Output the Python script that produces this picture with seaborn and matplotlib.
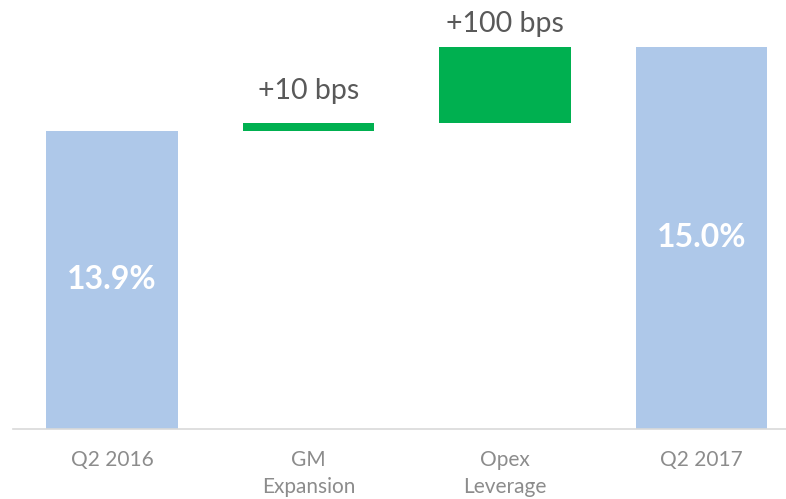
import matplotlib
matplotlib.use("Agg")
import matplotlib.pyplot as plt
import seaborn as sns
import pandas as pd

categories = ["Q2 2016", "GM\nExpansion", "Opex\nLeverage", "Q2 2017"]
changes = [13.9, 0.1, 1.0, 15.0]          # totals / deltas (percentage points)
kinds = ["total", "delta", "delta", "total"]
bar_labels = ["13.9%", "+10 bps", "+100 bps", "15.0%"]

# build waterfall bottoms / heights from the values
bottoms, heights = [], []
running = 0.0
for v, k in zip(changes, kinds):
    if k == "total":
        bottoms.append(0.0)
        heights.append(v)
        running = v
    else:
        bottoms.append(running)
        heights.append(v)
        running += v

df = pd.DataFrame({"cat": categories, "height": heights, "bottom": bottoms})

sns.set_theme(style="white")
plt.rcParams["font.family"] = ["Lato", "DejaVu Sans"]

fig = plt.figure(figsize=(7.86, 4.99), dpi=100)
ax = fig.add_axes([13 / 786, 70 / 499, 773 / 786, 429 / 499])

sns.barplot(data=df, x="cat", y="height", bottom=df["bottom"].values,
            color="#aec8e9", width=0.67, ax=ax, saturation=1)

blue, green = "#aec8e9", "#00b050"
for p, k in zip(ax.patches, kinds):
    p.set_facecolor(blue if k == "total" else green)
    p.set_edgecolor("none")

ymin = 10.0
ax.set_ylim(ymin, 15.61)
ax.set_xlim(-0.505, 3.43)

for i, (k, lab) in enumerate(zip(kinds, bar_labels)):
    top = bottoms[i] + heights[i]
    if k == "total":
        ax.text(i, (ymin + top) / 2, lab, ha="center", va="center",
                color="white", fontsize=23, fontweight="bold")
    else:
        ax.annotate(lab, (i, top), xytext=(0, 7 if heights[i] > 0.5 else 14),
                    textcoords="offset points", ha="center", va="bottom",
                    color="#595959", fontsize=20.5)

ax.set_xlabel("")
ax.set_ylabel("")
ax.set_yticks([])
ax.tick_params(axis="x", length=0, pad=15, labelsize=15, colors="#8c8c8c")
for t in ax.get_xticklabels():
    t.set_linespacing(1.45)
for s in ["top", "right", "left"]:
    ax.spines[s].set_visible(False)
ax.spines["bottom"].set_color("#d9d9d9")
ax.spines["bottom"].set_linewidth(1.2)

fig.savefig("out.png", dpi=100)
